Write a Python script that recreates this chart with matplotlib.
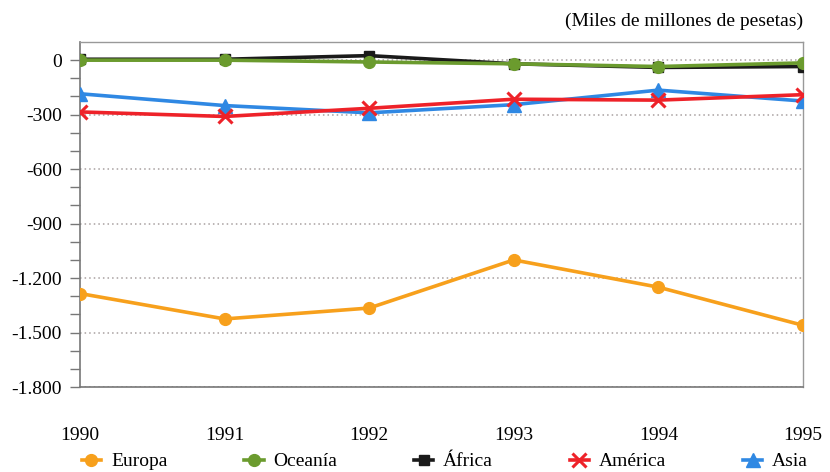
import matplotlib
matplotlib.use("Agg")
import matplotlib.pyplot as plt
from matplotlib.ticker import FixedLocator, FuncFormatter

years = [1990, 1991, 1992, 1993, 1994, 1995]
europa = [-1285, -1425, -1365, -1100, -1250, -1460]
oceania = [0, 0, -10, -20, -35, -15]
africa = [5, 5, 25, -20, -40, -35]
america = [-285, -310, -265, -215, -220, -190]
asia = [-185, -250, -290, -245, -165, -225]

plt.rcParams['font.family'] = ['Liberation Serif', 'DejaVu Serif']

fig = plt.figure(figsize=(8.3, 4.72), dpi=100)
ax = fig.add_axes([0.0964, 0.18, 0.871, 0.731])

lw = 2.6
ms = 8.5
ax.plot(years, europa, color='#F7A01C', lw=lw, marker='o', ms=ms, label='Europa', zorder=3)
ax.plot(years, africa, color='#1A1A1A', lw=lw, marker='s', ms=ms - 1, label='África', zorder=3)
ax.plot(years, oceania, color='#6B9B2E', lw=lw, marker='o', ms=ms, label='Oceanía', zorder=4)
ax.plot(years, asia, color='#2F88E3', lw=lw, marker='^', ms=ms + 2, label='Asia', zorder=3)
ax.plot(years, america, color='#EE2229', lw=lw, marker='x', ms=ms + 1, mew=2.2, label='América', zorder=4)

ax.set_xlim(1990, 1995)
ax.set_ylim(-1800, 100)
ax.yaxis.set_major_locator(FixedLocator(list(range(-1800, 1, 300))))
ax.yaxis.set_minor_locator(FixedLocator(list(range(-1800, 1, 100))))
ax.yaxis.set_major_formatter(FuncFormatter(lambda v, p: f"{int(round(v)):,}".replace(',', '.')))
ax.set_xticks(years)
ax.set_xticklabels([str(y) for y in years])

ax.tick_params(axis='y', which='both', direction='out', length=7, width=1, color='#777777',
               labelsize=14, pad=6)
ax.tick_params(axis='x', length=0, labelsize=14, pad=29)

for s in ['left', 'bottom']:
    ax.spines[s].set_color('#777777')
    ax.spines[s].set_linewidth(1.2)
for s in ['top', 'right']:
    ax.spines[s].set_color('#999999')
    ax.spines[s].set_linewidth(1.0)

ax.grid(axis='y', which='major', linestyle=(0, (1, 2)), color='#A8A0A0', lw=1.1, zorder=1)
ax.set_axisbelow(True)

fig.text(0.968, 0.955, '(Miles de millones de pesetas)', ha='right', va='center', fontsize=14)

handles, labels = ax.get_legend_handles_labels()
order = ['Europa', 'Oceanía', 'África', 'América', 'Asia']
hmap = dict(zip(labels, handles))
leg = fig.legend([hmap[k] for k in order], order, loc='center', bbox_to_anchor=(0.536, 0.022),
                 ncol=5, frameon=False, fontsize=14, handlelength=1.0, handletextpad=0.5,
                 columnspacing=3.95, borderaxespad=0)

fig.savefig('out.png', dpi=100)
